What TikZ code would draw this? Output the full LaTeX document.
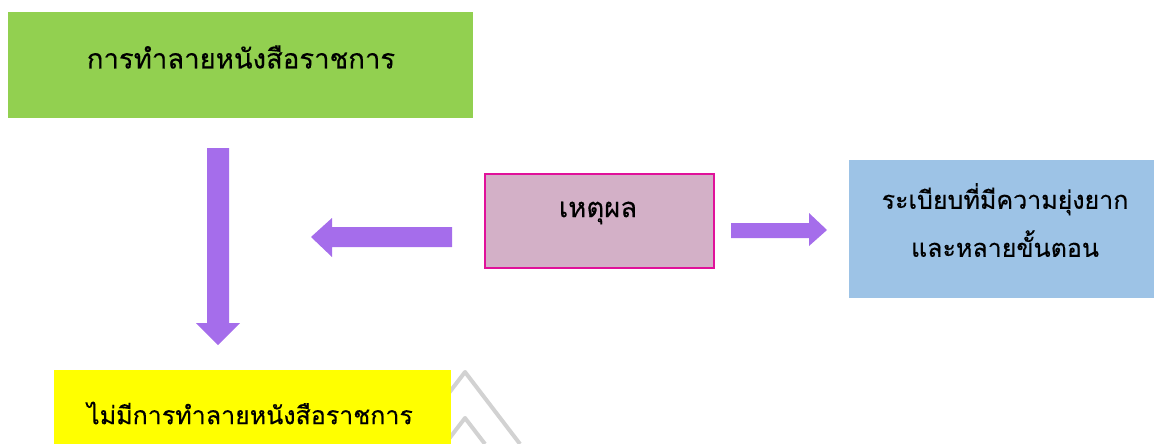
\documentclass[tikz,border=0pt]{standalone}
\usepackage{fontspec}
\newfontfamily\thaifont[Script=Thai,FakeBold=0.35]{Loma}
\definecolor{boxgreen}{HTML}{92D050}
\definecolor{boxpink}{HTML}{D3B0C7}
\definecolor{edgepink}{HTML}{E0119A}
\definecolor{boxblue}{HTML}{9DC3E6}
\definecolor{boxyellow}{HTML}{FFFF00}
\definecolor{arrowviolet}{HTML}{A56DEB}
\definecolor{markgrey}{HTML}{D2D2D2}
\begin{document}
\begin{tikzpicture}[x=1pt,y=-1pt,
  box/.style={rectangle, inner sep=0pt, anchor=north west},
  txt/.style={font=\thaifont\fontsize{25}{48}\selectfont, inner sep=0pt, align=center, text=black},
  bigtxt/.style={txt, font=\thaifont\fontsize{27.5}{48}\selectfont},
  block/.style={fill=arrowviolet}]
\useasboundingbox (0,0) rectangle (1154,444);

% faint mark behind the bottom box
\draw[markgrey, line width=4pt, line join=round]
  (410,444) -- (465,372) -- (520,444);
\draw[markgrey, line width=4pt, line join=round]
  (445,444) -- (465,418) -- (485,444);
\draw[markgrey, line width=4pt] (608,446) arc (160:20:9);

% boxes
\node[box, fill=boxgreen, minimum width=465pt, minimum height=106pt] (destroy) at (8,12) {};
\node[box, fill=boxpink, draw=edgepink, line width=2pt, minimum width=229pt, minimum height=94pt] (reason) at (484,173) {};
\node[box, fill=boxblue, minimum width=305pt, minimum height=138pt] (rules) at (849,160) {};
\node[box, fill=boxyellow, minimum width=397pt, minimum height=90pt] (nodestroy) at (54,370) {};

% labels
\node[bigtxt] (destroyT) at (241,57) {การทำลายหนังสือราชการ};
\node[bigtxt] (reasonT) at (598,213) {เหตุผล};
\node[txt] (rulesT) at (1005,220) {ระเบียบที่มีความยุ่งยาก\\และหลายขั้นตอน};
\node[txt] (nodestroyT) at (250,413) {ไม่มีการทำลายหนังสือราชการ};

% block arrows
\fill[block] (207,148) -- (229,148) -- (229,323) -- (240,323) -- (218,345)
  -- (196,323) -- (207,323) -- cycle;
\fill[block] (452,227) -- (452,247) -- (332,247) -- (332,257) -- (311,237)
  -- (332,218) -- (332,227) -- cycle;
\fill[block] (731,223) -- (809,223) -- (809,213) -- (827,230) -- (809,246)
  -- (809,238) -- (731,238) -- cycle;
\end{tikzpicture}
\end{document}
